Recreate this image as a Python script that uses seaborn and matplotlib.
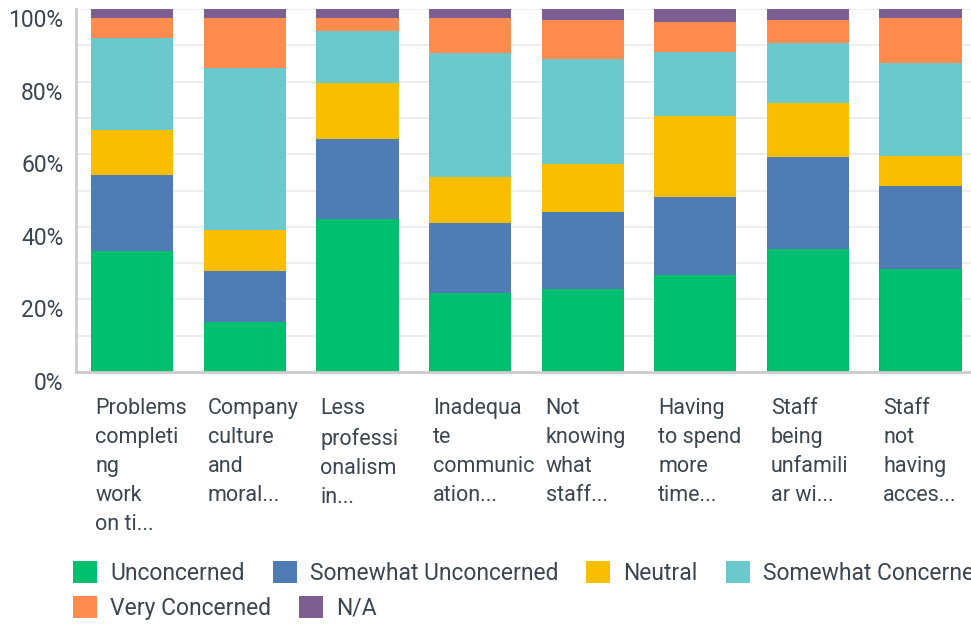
import matplotlib
matplotlib.use("Agg")
import pandas as pd
import seaborn as sns
import matplotlib.pyplot as plt
import matplotlib.transforms as mtransforms
from matplotlib.patches import Patch

# ## Data (percent of responses per item)
categories = ["Problems completing work on ti...", "Company culture and moral...",
              "Less professionalism in...", "Inadequate communication...",
              "Not knowing what staff...", "Having to spend more time...",
              "Staff being unfamiliar wi...", "Staff not having acces..."]
tick_labels = ["Problems\ncompleti\nng\nwork\non ti...", "Company\nculture\nand\nmoral...",
               "Less\nprofessi\nonalism\nin...", "Inadequa\nte\ncommunic\nation...",
               "Not\nknowing\nwhat\nstaff...", "Having\nto spend\nmore\ntime...",
               "Staff\nbeing\nunfamili\nar wi...", "Staff\nnot\nhaving\nacces..."]

levels = ["Unconcerned", "Somewhat Unconcerned", "Neutral",
          "Somewhat Concerned", "Very Concerned", "N/A"]
unconcerned = [33.3, 13.8, 42.1, 21.7, 22.8, 26.7, 33.8, 28.3]
somewhat_unconcerned = [20.9, 14.0, 22.1, 19.3, 21.2, 21.5, 25.4, 22.9]
neutral = [12.5, 11.4, 15.4, 12.7, 13.4, 22.4, 14.9, 8.4]
somewhat_concerned = [25.4, 44.6, 14.3, 34.2, 28.8, 17.6, 16.5, 25.5]
very_concerned = [5.5, 13.8, 3.7, 9.7, 10.8, 8.2, 6.4, 12.5]
na = [2.4, 2.4, 2.4, 2.4, 3.0, 3.6, 3.0, 2.4]

colors = ["#00BF6F", "#507CB6", "#F9BE00", "#6BC8CD", "#FF8B4F", "#7D5E90"]
text_color = "#3b4550"

df = pd.DataFrame({
    "Unconcerned": unconcerned,
    "Somewhat Unconcerned": somewhat_unconcerned,
    "Neutral": neutral,
    "Somewhat Concerned": somewhat_concerned,
    "Very Concerned": very_concerned,
    "N/A": na,
}, index=categories)
cum = df.cumsum(axis=1)

sns.set_style("white")
plt.rcParams["font.family"] = ["Roboto", "DejaVu Sans"]

fig = plt.figure(figsize=(9.71, 6.24), dpi=100)
ax = fig.add_axes([76 / 971, 1 - 372 / 624, 1 - 76 / 971, 363 / 624])

# stacked bars: draw cumulative totals from the top level down
for lvl, c in zip(levels[::-1], colors[::-1]):
    sns.barplot(x=categories, y=cum[lvl].values, color=c, saturation=1,
                width=0.73, linewidth=0, edgecolor="none", ax=ax, zorder=2)

ax.set_xlim(-0.5, -0.5 + 895 / 112.6)
ax.set_ylim(0, 100)
ax.set_yticks(range(0, 101, 20))
ax.set_yticks(range(10, 100, 20), minor=True)
ax.set_yticklabels([f"{v}%" for v in range(0, 101, 20)])
plt.setp(ax.get_yticklabels(), va="top")
ax.tick_params(axis="y", which="both", length=0, pad=9, labelsize=16.5, labelcolor=text_color)
ax.set_xticks(range(len(categories)))
ax.set_xticklabels([])
ax.tick_params(axis="x", length=0)
ax.set_xlabel("")
ax.set_ylabel("")
ax.yaxis.grid(True, which="both", color="#eeeeee", linewidth=1.5, zorder=0)
ax.set_axisbelow(True)
for s in ["top", "right"]:
    ax.spines[s].set_visible(False)
for s in ["left", "bottom"]:
    ax.spines[s].set_color("#cccccc")
    ax.spines[s].set_linewidth(2)

trans = mtransforms.blended_transform_factory(ax.transData, ax.transAxes)
for i, lab in enumerate(tick_labels):
    ax.text(i - 0.33, -0.072, lab, transform=trans, ha="left", va="top",
            fontsize=15.5, linespacing=1.5, color=text_color)

handles = [Patch(facecolor=c, edgecolor="none") for c in colors]
leg_kw = dict(frameon=False, borderpad=0, borderaxespad=0, handlelength=1.05,
              handleheight=1.05, handletextpad=0.57, columnspacing=1.22,
              prop={"size": 16.5}, labelcolor=text_color)
fig.legend(handles[:4], levels[:4], ncol=4, loc="center left",
           bbox_to_anchor=(73 / 971, 1 - 573 / 624), **leg_kw)
fig.legend(handles[4:], levels[4:], ncol=2, loc="center left",
           bbox_to_anchor=(73 / 971, 1 - 608 / 624), **leg_kw)

fig.savefig("out.png", dpi=100, facecolor="white")
